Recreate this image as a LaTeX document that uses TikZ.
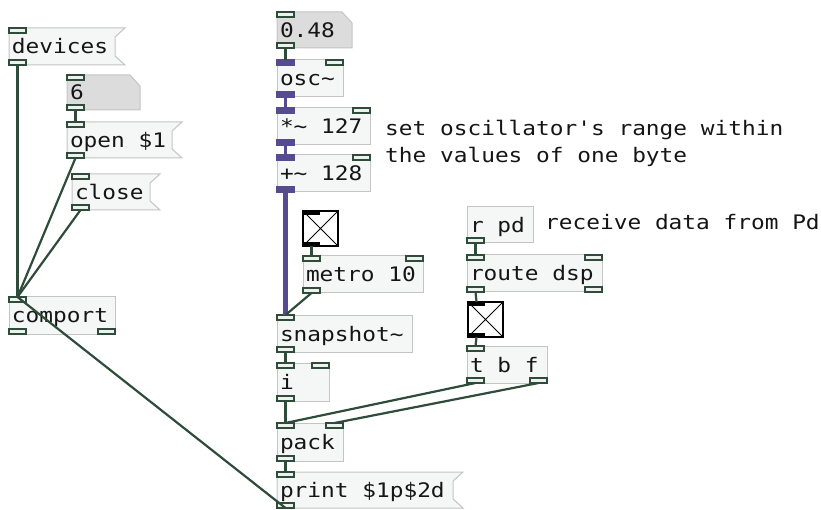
\documentclass[tikz,border=0pt]{standalone}
\usepackage{fontspec}
\setmonofont{DejaVu Sans Mono}[FakeStretch=1.14]
\definecolor{boxline}{HTML}{C4C4C4}
\definecolor{boxfill}{HTML}{F5F7F7}
\definecolor{numfill}{HTML}{DCDCDC}
\definecolor{cordgreen}{HTML}{2E4C39}
\definecolor{portfill}{HTML}{EEF2EE}
\definecolor{sigpurple}{HTML}{574B8F}
\definecolor{txt}{HTML}{151515}
\pgfdeclarelayer{bg}
\pgfsetlayers{bg,main}
\begin{document}
\begin{tikzpicture}[x=1pt,y=-1pt,
  pdfont/.style={font=\ttfamily\fontsize{20}{24}\selectfont},
  obj/.style={draw=boxline, fill=boxfill, line width=1pt, anchor=north west,
    inner xsep=3pt, inner ysep=0pt, outer sep=0pt, minimum height=37pt,
    text height=17pt, text depth=2pt, align=left, pdfont, text=txt,
    execute at begin node={\spaceskip=0pt\xspaceskip=0pt}},
  msg/.style={obj, draw=none, fill=none},
  num/.style={obj, draw=none, fill=none},
  port/.style={draw=cordgreen, fill=portfill, line width=1.2pt, minimum width=17pt,
    minimum height=5pt, inner sep=0pt, outer sep=0pt},
  sport/.style={port, draw=sigpurple, fill=sigpurple},
  tport/.style={draw=none, fill=black, minimum width=17pt, minimum height=4pt,
    inner sep=0pt, outer sep=0pt},
  cord/.style={draw=cordgreen, line width=2.2pt},
  sig/.style={draw=sigpurple, line width=4.5pt},
  sigthin/.style={draw=sigpurple, line width=3pt},
  tgl/.style={draw=black, line width=2pt, fill=white, minimum size=35pt,
    anchor=north west, inner sep=0pt, outer sep=0pt},
  msgframe/.style={draw=boxline, fill=boxfill, line width=1pt},
  numframe/.style={draw=boxline, fill=numfill, line width=1pt},
  comment/.style={anchor=base west, inner sep=0pt, pdfont, text=txt}
]
\useasboundingbox (0,0) rectangle (821,510);

% ---------- left column ----------
\node[msg, text width=100pt] (devices) at (9,28) {devices};
\node[num, text width=67pt, minimum height=35pt] (six) at (67,75) {6};
\node[msg, text width=99pt, minimum height=36pt] (open) at (67,122) {open \$1};
\node[msg, text width=72pt, minimum height=36pt] (close) at (72,174) {close};
\node[obj, text width=100pt] (comport) at (9,297) {comport};

% ---------- middle column ----------
\node[num, text width=69pt, minimum height=36pt] (n048) at (277,12) {0.48};
\node[obj, text width=60pt] (osc) at (277,60) {osc\textasciitilde};
\node[obj, text width=87pt] (mul) at (277,108) {*\textasciitilde{} 127};
\node[obj, text width=87pt] (add) at (277,155) {+\textasciitilde{} 128};
\node[tgl] (tgl1) at (303,211) {};
\node[obj, text width=114pt] (metro) at (303,256) {metro 10};
\node[obj, text width=129pt] (snap) at (277,315) {snapshot\textasciitilde};
\node[obj, text width=46pt, minimum height=38pt] (iobj) at (277,363) {i};
\node[obj, text width=60pt, minimum height=38pt] (pack) at (277,423) {pack};
\node[msg, text width=170pt, minimum height=36pt] (print) at (277,472) {print \$1p\$2d};

% ---------- right column ----------
\node[obj, text width=60pt, minimum height=36pt] (rpd) at (467,207) {r pd};
\node[obj, text width=129pt] (route) at (467,255) {route dsp};
\node[tgl] (tgl2) at (468,302) {};
\node[obj, text width=74pt] (tbf) at (467,346) {t b f};

% ---------- comments ----------
\node[comment] (c1) at (385,136) {set oscillator's range within};
\node[comment] (c2) at (385,163) {the values of one byte};
\node[comment] (c3) at (545,230) {receive data from Pd};

% ---------- frames of message and number boxes ----------
\begin{pgfonlayer}{bg}
\foreach \m in {devices,open,close,print}{
  \path[msgframe] (\m.north west) -- ([xshift=10pt]\m.north east)
    -- ([yshift=-9pt]\m.north east) -- ([yshift=9pt]\m.south east)
    -- ([xshift=10pt]\m.south east) -- (\m.south west) -- cycle;
}
\foreach \m in {six,n048}{
  \path[numframe] (\m.north west) -- ([xshift=-10pt]\m.north east)
    -- ([yshift=-11pt]\m.north east) -- (\m.south east) -- (\m.south west) -- cycle;
}
\end{pgfonlayer}

% ---------- toggles ----------
\foreach \t in {tgl1,tgl2}{
  \draw[black, line width=0.9pt] (\t.north west) -- (\t.south east)
    (\t.north east) -- (\t.south west);
  \node[tport, anchor=north west] (\t-i0) at (\t.north west) {};
  \node[tport, anchor=south west] (\t-o0) at (\t.south west) {};
}

% ---------- inlets / outlets ----------
\foreach \b in {devices,six,open,close,comport,n048,metro,snap,iobj,pack,print,route,tbf}{
  \node[port, anchor=north west] (\b-i0) at (\b.north west) {};
}
\foreach \b in {devices,six,open,close,comport,n048,metro,snap,iobj,pack,print,rpd,route,tbf}{
  \node[port, anchor=south west] (\b-o0) at (\b.south west) {};
}
\foreach \b in {osc,mul,add}{
  \node[sport, anchor=north west] (\b-i0) at (\b.north west) {};
  \node[sport, anchor=south west] (\b-o0) at (\b.south west) {};
  \node[port, anchor=north east] (\b-i1) at (\b.north east) {};
}
\foreach \b in {metro,iobj,pack,route}{
  \node[port, anchor=north east] (\b-i1) at (\b.north east) {};
}
\foreach \b in {comport,route,tbf}{
  \node[port, anchor=south east] (\b-o1) at (\b.south east) {};
}

% ---------- connections ----------
\draw[cord] (devices-o0.south) -- (comport-i0.north);
\draw[cord] (six-o0.south) -- (open-i0.north);
\draw[cord] (open-o0.south) -- (comport-i0.north);
\draw[cord] (close-o0.south) -- (comport-i0.north);
\draw[cord] (print-o0.south) -- (comport-i0.north);
\draw[cord] (n048-o0.south) -- (osc-i0.north);
\draw[sigthin] (osc-o0.south) -- (mul-i0.north);
\draw[sigthin] (mul-o0.south) -- (add-i0.north);
\draw[sig] (add-o0.south) -- (snap-i0.north);
\draw[cord] (tgl1-o0.south) -- (metro-i0.north);
\draw[cord] (metro-o0.south) -- (snap-i0.north);
\draw[cord] (snap-o0.south) -- (iobj-i0.north);
\draw[cord] (iobj-o0.south) -- (pack-i0.north);
\draw[cord] (tbf-o0.south) -- (pack-i0.north);
\draw[cord] (tbf-o1.south) -- (pack-i1.north);
\draw[cord] (pack-o0.south) -- (print-i0.north);
\draw[cord] (rpd-o0.south) -- (route-i0.north);
\draw[cord] (route-o0.south) -- (tgl2-i0.north);
\draw[cord] (tgl2-o0.south) -- (tbf-i0.north);
\end{tikzpicture}
\end{document}
